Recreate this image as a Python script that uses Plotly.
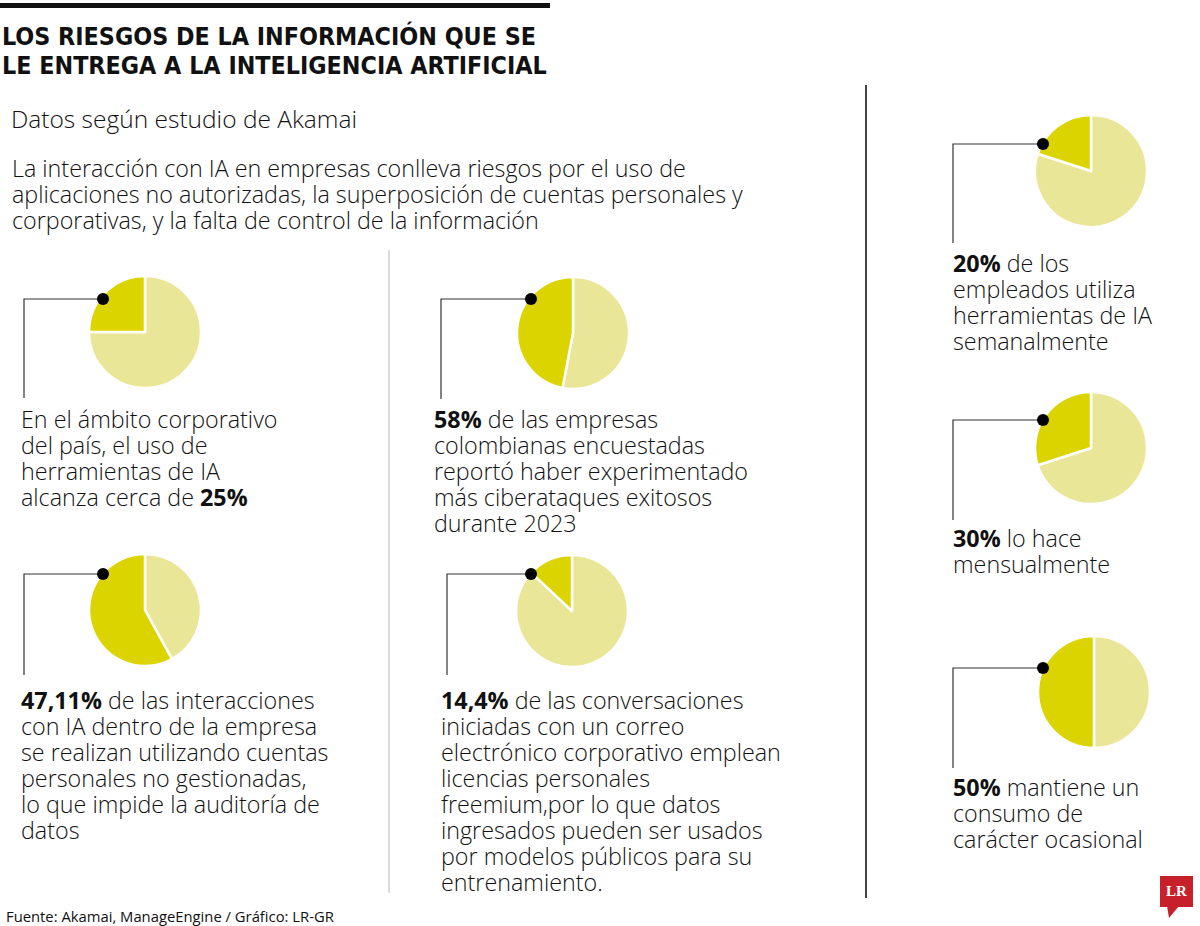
import plotly.graph_objects as go

W, H = 1200, 926

# ---------------- data ----------------
pie_values_dark = [25, 47, 58, 13, 20, 30, 50]   # dark slice share as drawn
pie_values_light = [100 - v for v in pie_values_dark]

title_lines = ["LOS RIESGOS DE LA INFORMACIÓN QUE SE",
               "LE ENTREGA A LA INTELIGENCIA ARTIFICIAL"]
subtitle = "Datos según estudio de Akamai"
intro_lines = ["La interacción con IA en empresas conlleva riesgos por el uso de",
               "aplicaciones no autorizadas, la superposición de cuentas personales y",
               "corporativas, y la falta de control de la información"]

texts = [
    ["En el ámbito corporativo", "del país, el uso de", "herramientas de IA",
     "alcanza cerca de <b>25%</b>"],
    ["<b>58%</b> de las empresas", "colombianas encuestadas",
     "reportó haber experimentado", "más ciberataques exitosos", "durante 2023"],
    ["<b>47,11%</b> de las interacciones", "con IA dentro de la empresa",
     "se realizan utilizando cuentas", "personales no gestionadas,",
     "lo que impide la auditoría de", "datos"],
    ["<b>14,4%</b> de las conversaciones", "iniciadas con un correo",
     "electrónico corporativo emplean", "licencias personales",
     "freemium,por lo que datos", "ingresados pueden ser usados",
     "por modelos públicos para su", "entrenamiento."],
    ["<b>20%</b> de los", "empleados utiliza", "herramientas de IA", "semanalmente"],
    ["<b>30%</b> lo hace", "mensualmente"],
    ["<b>50%</b> mantiene un", "consumo de", "carácter ocasional"],
]
source = "Fuente: Akamai, ManageEngine / Gráfico: LR-GR"

# ---------------- layout (pixels) ----------------
# center x, center y, radius, dot dx, dot dy, elbow x, line bottom y, text x, first line y
panels = [
    (145, 332, 56, -42, -33, 24, 398, 20, 419),
    (573, 333, 56, -42, -34, 441, 399, 433, 419),
    (145, 610, 56, -42, -36, 24, 675, 20, 700),
    (572, 611, 56, -41, -37, 447, 675, 440, 700),
    (1091, 171, 56, -48, -27, 953, 243, 952, 263),
    (1091, 448, 56, -48, -28, 953, 520, 952, 538),
    (1094, 692, 56, -51, -24, 953, 768, 952, 787),
]

DARK = "#DCD400"
LIGHT = "#EAE697"
BODY_FONT = "Open Sans"
BODY_SIZE = 23.3
BODY_WEIGHT = 300
LINE_H = 26

fig = go.Figure()
shapes = []
annotations = []

for i, (cx, cy, r, ddx, ddy, ex, ey, tx, ty) in enumerate(panels):
    # light slice first: it runs clockwise from 12 o'clock, dark slice closes on the left
    fig.add_trace(go.Pie(
        values=[pie_values_light[i], pie_values_dark[i]],
        labels=["b", "a"],
        sort=False, rotation=0,
        marker=dict(colors=[LIGHT, DARK], line=dict(color="white", width=2.5)),
        textinfo="none", hoverinfo="skip", showlegend=False,
        domain=dict(x=[(cx - r) / W, (cx + r) / W],
                    y=[1 - (cy + r) / H, 1 - (cy - r) / H]),
    ))
    dx, dy = cx + ddx, cy + ddy
    shapes.append(dict(type="path", xref="x", yref="y",
                       path=f"M {dx},{dy} L {ex},{dy} L {ex},{ey}",
                       line=dict(color="#333333", width=1.2)))
    shapes.append(dict(type="circle", xref="x", yref="y",
                       x0=dx - 6, x1=dx + 6, y0=dy - 6, y1=dy + 6,
                       fillcolor="black", line=dict(width=0)))
    for k, line in enumerate(texts[i]):
        annotations.append(dict(x=tx, y=ty + k * LINE_H, xref="x", yref="y",
                                text=line, showarrow=False, xanchor="left",
                                yanchor="middle", borderpad=0,
                                font=dict(family=BODY_FONT, size=BODY_SIZE,
                                          weight=BODY_WEIGHT, color="#111111")))

# top bar
shapes.append(dict(type="rect", xref="x", yref="y", x0=0, x1=550, y0=3, y1=8,
                   fillcolor="#111111", line=dict(width=0)))
# separators
shapes.append(dict(type="line", xref="x", yref="y", x0=389, x1=389, y0=250, y1=893,
                   line=dict(color="#d0d0d0", width=1.5)))
shapes.append(dict(type="line", xref="x", yref="y", x0=866, x1=866, y0=85, y1=898,
                   line=dict(color="#444444", width=2)))

# title
for k, line in enumerate(title_lines):
    annotations.append(dict(x=1, y=36 + k * 29, xref="x", yref="y", text=f"<b>{line}</b>",
                            showarrow=False, xanchor="left", yanchor="middle", borderpad=0,
                            font=dict(family="Liberation Sans Narrow, DejaVu Sans Condensed",
                                      size=24.8, color="#111111")))
annotations.append(dict(x=9, y=118, xref="x", yref="y", text=subtitle, showarrow=False,
                        xanchor="left", yanchor="middle",
                        font=dict(family=BODY_FONT, size=24.5, weight=BODY_WEIGHT,
                                  color="#111111")))
for k, line in enumerate(intro_lines):
    annotations.append(dict(x=11, y=168 + k * 26, xref="x", yref="y", text=line,
                            showarrow=False, xanchor="left", yanchor="middle", borderpad=0,
                            font=dict(family=BODY_FONT, size=BODY_SIZE, weight=BODY_WEIGHT,
                                      color="#111111")))
annotations.append(dict(x=4, y=916, xref="x", yref="y", text=source, showarrow=False,
                        xanchor="left", yanchor="middle",
                        font=dict(family=BODY_FONT, size=14.8, color="#111111")))

# LR logo
shapes.append(dict(type="rect", xref="x", yref="y", x0=1160, x1=1193, y0=876, y1=907,
                   fillcolor="#C8202A", line=dict(width=0)))
shapes.append(dict(type="path", xref="x", yref="y",
                   path="M 1167,906 L 1179,906 L 1169,918 Z",
                   fillcolor="#C8202A", line=dict(width=0)))
annotations.append(dict(x=1176.5, y=891, xref="x", yref="y", text="<b>LR</b>",
                        showarrow=False, xanchor="center", yanchor="middle",
                        font=dict(family="Liberation Serif, DejaVu Serif", size=15,
                                  color="white")))

fig.update_layout(
    width=W, height=H, margin=dict(l=0, r=0, t=0, b=0),
    paper_bgcolor="white", plot_bgcolor="white",
    xaxis=dict(range=[0, W], visible=False, domain=[0, 1], fixedrange=True),
    yaxis=dict(range=[H, 0], visible=False, domain=[0, 1], fixedrange=True),
    shapes=shapes, annotations=annotations, showlegend=False,
)
fig.write_html("out.html", config={"displayModeBar": False},
               post_script="document.body.style.margin='0px';")
